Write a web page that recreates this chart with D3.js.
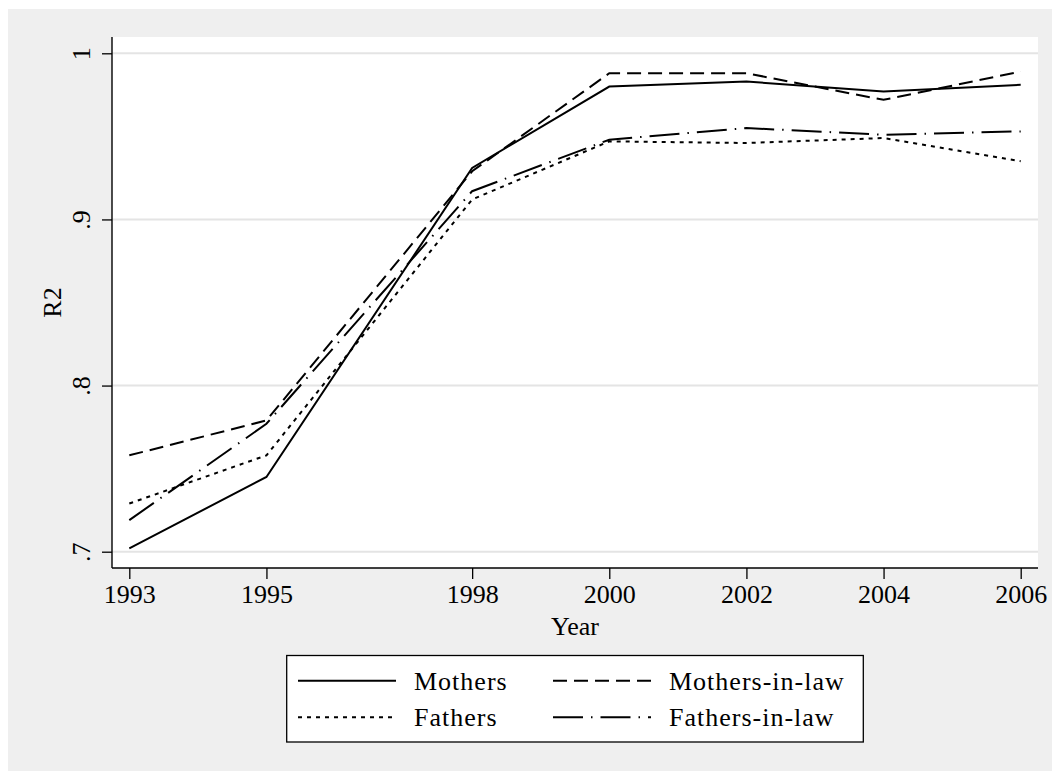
<!DOCTYPE html>
<html>
<head>
<meta charset="utf-8">
<script src="https://cdn.jsdelivr.net/npm/d3@7"></script>
<style>
	body { margin: 0; background: #fff; }
	svg { display: block; font-family: "Liberation Serif", "Times New Roman", serif; }
</style>
</head>
<body>
<svg id="chart" width="1052" height="771"></svg>
<script>
"use strict";

// values
const years = [1993, 1995, 1998, 2000, 2002, 2004, 2006];
const mothers = [0.702, 0.745, 0.931, 0.980, 0.983, 0.977, 0.981];
const mothersInLaw = [0.758, 0.779, 0.929, 0.988, 0.988, 0.972, 0.989];
const fathers = [0.729, 0.758, 0.912, 0.947, 0.946, 0.949, 0.935];
const fathersInLaw = [0.719, 0.777, 0.917, 0.948, 0.955, 0.951, 0.953];
const yTicks = [0.7, 0.8, 0.9, 1];
const yTickLabels = [".7", ".8", ".9", "1"];

const series = [
	{name: "Mothers", values: mothers, dash: null},
	{name: "Mothers-in-law", values: mothersInLaw, dash: "14,7"},
	{name: "Fathers", values: fathers, dash: "4,5"},
	{name: "Fathers-in-law", values: fathersInLaw, dash: "30,8,1.5,8"}
];

const svg = d3.select("#chart");
const plot = {left: 112, right: 1038, top: 37, bottom: 568};

// outer graph region
svg.append("rect")
	.attr("x", 8).attr("y", 9)
	.attr("width", 1044).attr("height", 762)
	.attr("fill", "#efefef");

svg.append("rect")
	.attr("x", plot.left).attr("y", plot.top)
	.attr("width", plot.right - plot.left).attr("height", plot.bottom - plot.top)
	.attr("fill", "#fff");

const x = d3.scaleLinear().domain([1993, 2006]).range([129.3, 1020.7]);
const y = d3.scaleLinear().domain([0.7, 1]).range([551.7, 53.3]);

// grid
svg.append("g").selectAll("line")
	.data(yTicks)
	.join("line")
	.attr("x1", plot.left).attr("x2", plot.right)
	.attr("y1", d => y(d)).attr("y2", d => y(d))
	.attr("stroke", "#e4e4e4")
	.attr("stroke-width", 2);

// axes
const xAxis = svg.append("g")
	.attr("transform", `translate(0,${plot.bottom})`)
	.call(d3.axisBottom(x).tickValues(years).tickFormat(d3.format("d")).tickSize(11).tickPadding(6))
	.attr("font-family", null).attr("font-size", 26);
xAxis.select(".domain").remove();
xAxis.selectAll("line").attr("stroke", "#000").attr("stroke-width", 1.3);
xAxis.selectAll("text").attr("fill", "#000");

const yAxis = svg.append("g")
	.attr("transform", `translate(${plot.left},0)`)
	.call(d3.axisLeft(y).tickValues(yTicks).tickFormat((d, i) => yTickLabels[i]).tickSize(10))
	.attr("font-family", null).attr("font-size", 26);
yAxis.select(".domain").remove();
yAxis.selectAll("line").attr("stroke", "#000").attr("stroke-width", 1.3);
yAxis.selectAll("text")
	.attr("fill", "#000")
	.attr("x", null).attr("dy", null)
	.attr("text-anchor", "middle")
	.attr("transform", "translate(-22,0) rotate(-90)");

svg.append("line")
	.attr("x1", plot.left).attr("x2", plot.left)
	.attr("y1", plot.top).attr("y2", plot.bottom)
	.attr("stroke", "#000").attr("stroke-width", 1.4);
svg.append("line")
	.attr("x1", plot.left).attr("x2", plot.right)
	.attr("y1", plot.bottom).attr("y2", plot.bottom)
	.attr("stroke", "#000").attr("stroke-width", 1.4);

// axis titles
svg.append("text")
	.attr("x", (plot.left + plot.right) / 2).attr("y", 635)
	.attr("text-anchor", "middle").attr("font-size", 26)
	.text("Year");
svg.append("text")
	.attr("transform", `translate(61,${(plot.top + plot.bottom) / 2}) rotate(-90)`)
	.attr("text-anchor", "middle").attr("font-size", 26)
	.text("R2");

// lines
const line = d3.line()
	.x((d, i) => x(years[i]))
	.y(d => y(d));

svg.append("g").selectAll("path")
	.data(series)
	.join("path")
	.attr("d", d => line(d.values))
	.attr("fill", "none")
	.attr("stroke", "#000")
	.attr("stroke-width", 2)
	.attr("stroke-dasharray", d => d.dash);

// legend
const legend = svg.append("g");
legend.append("rect")
	.attr("x", 286.7).attr("y", 655.5)
	.attr("width", 576.6).attr("height", 86.5)
	.attr("fill", "#fff").attr("stroke", "#000").attr("stroke-width", 1.3);

const cols = [298, 553];
const rows = [680.7, 717.3];
series.forEach((s, i) => {
	const cx = cols[i % 2];
	const cy = rows[Math.floor(i / 2)];
	legend.append("line")
		.attr("x1", cx).attr("x2", cx + 98)
		.attr("y1", cy).attr("y2", cy)
		.attr("stroke", "#000").attr("stroke-width", 2)
		.attr("stroke-dasharray", s.dash);
	legend.append("text")
		.attr("x", cx + 116).attr("y", cy + 9)
		.attr("font-size", 26)
		.attr("letter-spacing", 1)
		.text(s.name);
});
</script>
</body>
</html>
